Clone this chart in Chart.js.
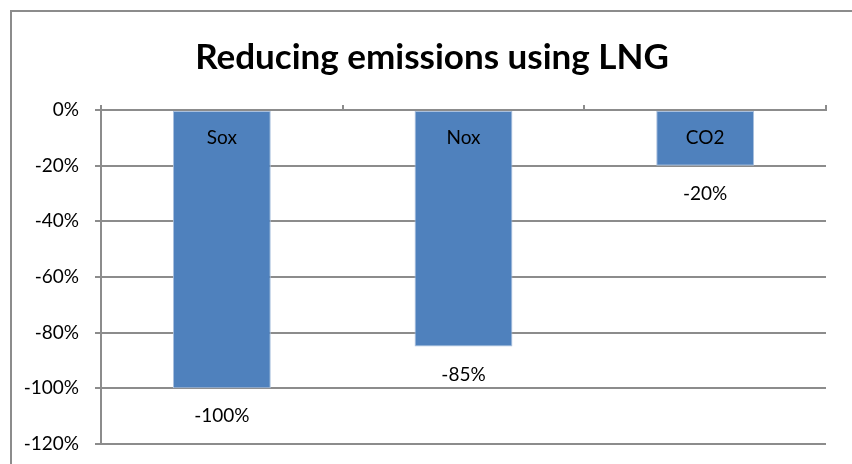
<!DOCTYPE html>
<html>
<head>
<meta charset="utf-8">
<script src="https://cdn.jsdelivr.net/npm/chart.js@4/dist/chart.umd.min.js"></script>
<style>
  html, body { margin: 0; padding: 0; background: #fff; }
  #wrap { width: 852px; height: 464px; position: relative; }
</style>
</head>
<body>
<div id="wrap"><canvas id="chart"></canvas></div>
<script>
const categories = ["Sox", "Nox", "CO2"];
const reduction = [-100, -85, -20];
const yMin = -120;
const yMax = 0;
const yStep = 20;

const FONT = "Lato, 'Open Sans', sans-serif";
const GRID = "#8c8c8c";

// frame round the whole chart (only left and top edges are visible)
const framePlugin = {
  id: "frame",
  beforeDraw(chart) {
    const ctx = chart.ctx;
    ctx.save();
    ctx.strokeStyle = GRID;
    ctx.lineWidth = 2;
    ctx.beginPath();
    ctx.moveTo(11, chart.height + 2);
    ctx.lineTo(11, 11);
    ctx.lineTo(chart.width + 2, 11);
    ctx.stroke();
    ctx.restore();
  },
};

// category name inside the bar top, value under the bar end
const barLabels = {
  id: "barLabels",
  afterDatasetsDraw(chart) {
    const ctx = chart.ctx;
    const meta = chart.getDatasetMeta(0);
    ctx.save();
    ctx.fillStyle = "#000";
    ctx.font = "19px " + FONT;
    ctx.textAlign = "center";
    ctx.textBaseline = "middle";
    meta.data.forEach((bar, i) => {
      ctx.fillText(categories[i], bar.x, bar.base + 27);
      ctx.fillText(reduction[i] + "%", bar.x, bar.y + 28);
    });
    ctx.restore();
  },
};

new Chart(document.getElementById("chart"), {
  type: "bar",
  data: {
    labels: categories,
    datasets: [
      {
        data: reduction,
        backgroundColor: "#4f81bd",
        borderColor: "#a9c0de",
        borderWidth: 1,
        borderSkipped: false,
        categoryPercentage: 1,
        barPercentage: 0.405,
      },
    ],
  },
  options: {
    responsive: true,
    maintainAspectRatio: false,
    animation: false,
    layout: { padding: { top: 0, right: 0, bottom: 20, left: 12 } },
    plugins: {
      legend: { display: false },
      tooltip: { enabled: false },
      title: {
        display: true,
        text: "Reducing emissions using LNG",
        color: "#000",
        font: { family: FONT, size: 35, weight: "bold", lineHeight: 1.2 },
        padding: { top: 37, bottom: 0 },
      },
    },
    scales: {
      x: {
        position: "top",
        ticks: { display: false },
        grid: {
          drawOnChartArea: false,
          drawTicks: true,
          tickLength: 5,
          offset: true,
          color: GRID,
          lineWidth: 2,
        },
        border: { color: GRID, width: 2 },
        afterFit: (s) => { s.height = 110 - 37 - 42; },
      },
      y: {
        min: yMin,
        max: yMax,
        ticks: {
          stepSize: yStep,
          color: "#000",
          padding: 16,
          font: { family: FONT, size: 19 },
          callback: (v) => v + "%",
        },
        grid: { color: GRID, lineWidth: 2, tickLength: 6 },
        border: { color: GRID, width: 2 },
        afterFit: (s) => {
          s.width = 89;
          s.paddingTop = 0;
          s.paddingBottom = 0;
        },
      },
      // empty right-hand margin
      yRight: {
        position: "right",
        min: yMin,
        max: yMax,
        ticks: { display: false },
        grid: { display: false },
        border: { display: false },
        afterFit: (s) => {
          s.width = 26;
          s.paddingTop = 0;
          s.paddingBottom = 0;
        },
      },
    },
  },
  plugins: [framePlugin, barLabels],
});
</script>
</body>
</html>
